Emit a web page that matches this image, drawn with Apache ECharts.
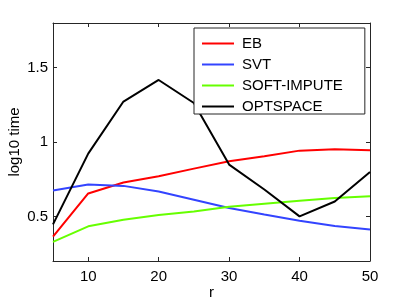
<!DOCTYPE html>
<html>
<head>
<meta charset="utf-8">
<script src="https://cdn.jsdelivr.net/npm/echarts@6/dist/echarts.min.js"></script>
<style>html,body{margin:0;padding:0;background:#fff}#c{width:409px;height:308px}</style>
</head>
<body>
<div id="c"></div>
<script>
var rValues = [5, 10, 15, 20, 25, 30, 35, 40, 45, 50];
var xTicks = [10, 20, 30, 40, 50];
var yTicks = [0.5, 1, 1.5];
var ebValues = [0.364, 0.654, 0.728, 0.770, 0.821, 0.871, 0.904, 0.942, 0.951, 0.944];
var svtValues = [0.674, 0.714, 0.705, 0.667, 0.612, 0.556, 0.513, 0.471, 0.435, 0.411];
var softImputeValues = [0.328, 0.433, 0.478, 0.509, 0.533, 0.565, 0.585, 0.605, 0.623, 0.636];
var optspaceValues = [0.446, 0.922, 1.272, 1.417, 1.262, 0.848, 0.681, 0.500, 0.600, 0.799];

var FONT = 'Liberation Sans';
var AXC = '#262626';
function pairs(v){ return rValues.map(function(r,i){ return [r, v[i]]; }); }
function mk(name, vals, color){
  return { name: name, type: 'line', data: pairs(vals), symbol: 'none', showSymbol: false,
    lineStyle: { color: color, width: 2 }, itemStyle: { color: color }, animation: false };
}
var chart = echarts.init(document.getElementById('c'), null, { renderer: 'canvas' });
var baseX = { type: 'value', min: 5, max: 50,
  axisLine: { show: true, onZero: false, lineStyle: { color: AXC, width: 1 } },
  axisTick: { show: true, inside: true, length: 4, customValues: xTicks, lineStyle: { color: AXC } },
  splitLine: { show: false } };
var baseY = { type: 'value', min: 0.2, max: 1.8,
  axisLine: { show: true, onZero: false, lineStyle: { color: AXC, width: 1 } },
  axisTick: { show: true, inside: true, length: 4, customValues: yTicks, lineStyle: { color: AXC } },
  splitLine: { show: false } };
chart.setOption({
  animation: false,
  backgroundColor: '#fff',
  grid: { left: 53, top: 23, width: 317, height: 238, containLabel: false, outerBoundsMode: 'none' },
  xAxis: [
    Object.assign({}, baseX, { position: 'bottom', name: 'r', nameLocation: 'middle', nameGap: 24, nameMoveOverlap: false,
      nameTextStyle: { fontFamily: FONT, fontSize: 15, color: '#000' },
      axisLabel: { show: true, customValues: xTicks, margin: 8, fontFamily: FONT, fontSize: 15, color: '#000' } }),
    Object.assign({}, baseX, { position: 'top', axisLabel: { show: false } })
  ],
  yAxis: [
    Object.assign({}, baseY, { position: 'left', name: 'log10 time', nameLocation: 'middle', nameGap: 31, nameRotate: 90, nameMoveOverlap: false,
      nameTextStyle: { fontFamily: FONT, fontSize: 15, color: '#000' },
      axisLabel: { show: true, customValues: yTicks, margin: 5, fontFamily: FONT, fontSize: 15, color: '#000',
        formatter: function(v){ return String(v); } } }),
    Object.assign({}, baseY, { position: 'right', axisLabel: { show: false } })
  ],
  legend: {
    orient: 'vertical', left: 194, top: 28,
    padding: [8, 22, 0, 7],
    itemWidth: 32, itemHeight: 14, itemGap: 6,
    itemStyle: { opacity: 0 },
    backgroundColor: '#fff', borderColor: AXC, borderWidth: 1, borderRadius: 0,
    textStyle: { fontFamily: FONT, fontSize: 15, color: '#000', padding: [0, 0, 0, 3] },
    data: ['EB', 'SVT', 'SOFT-IMPUTE', 'OPTSPACE']
  },
  series: [
    mk('EB', ebValues, '#ff0000'),
    mk('SVT', svtValues, '#3344ff'),
    mk('SOFT-IMPUTE', softImputeValues, '#66ff00'),
    mk('OPTSPACE', optspaceValues, '#000000')
  ]
});
</script>
</body>
</html>
